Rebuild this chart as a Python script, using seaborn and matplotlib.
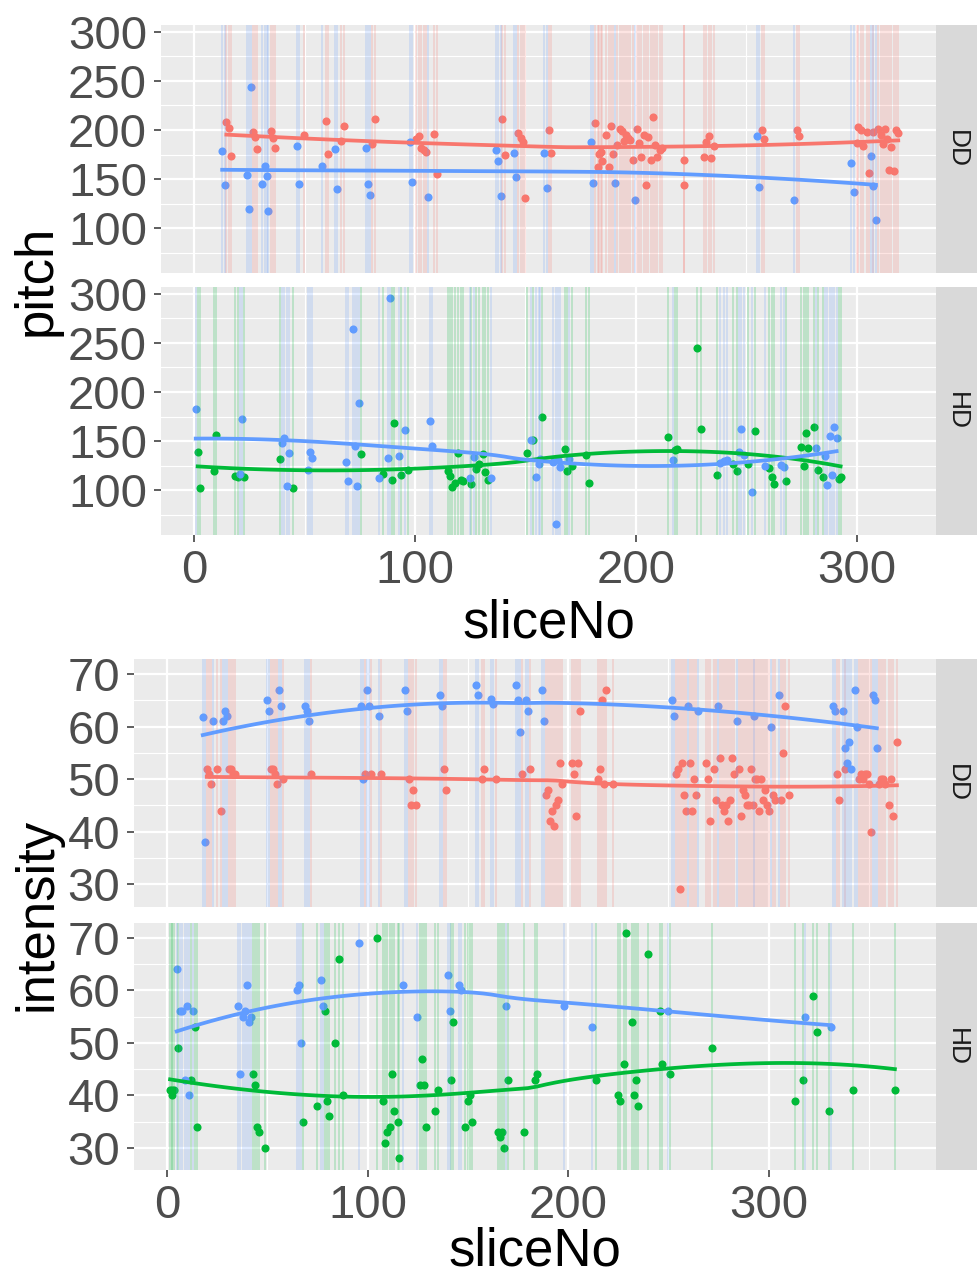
import numpy as np
import pandas as pd
import matplotlib
matplotlib.use("Agg")
import matplotlib.pyplot as plt
import seaborn as sns

plt.rcParams['font.family'] = ['Liberation Sans', 'DejaVu Sans']

RED, GREEN, BLUE = "#F8766D", "#00BA38", "#619CFF"

# ---------------- data (sliceNo, value) ----------------
pitch_dd_red = [
    (14.6, 208), (15.7, 202), (16.9, 174), (26.8, 198), (27.7, 193), (28.7, 181), (34.7, 199), (35.6, 192),
    (36.7, 182), (49.9, 195), (59.9, 209), (60.8, 176), (66.6, 189), (67.7, 204), (80.7, 186), (81.8, 211),
    (100.5, 191), (101.7, 194), (102.8, 182), (104, 180), (105, 178), (108.6, 196), (109.8, 155), (139.6, 211),
    (140.7, 175), (146.8, 197), (147.9, 192), (149.1, 188), (149.8, 131), (160.8, 200), (161.8, 177),
    (181.7, 207), (183.3, 176), (184.4, 178), (184.7, 168), (182.8, 162), (186.7, 195), (187.7, 162),
    (188.8, 204), (189.7, 176), (191.6, 185), (192.8, 201), (193.7, 199), (194.6, 189), (195.6, 195),
    (196.5, 192), (197.6, 190), (198.7, 169), (200.6, 201), (201.7, 187), (202.6, 172), (203.6, 195),
    (204.8, 144), (205.7, 193), (206.8, 169), (207.8, 213), (208.9, 185), (209.8, 172), (211, 180), (212, 182),
    (222, 169), (221.9, 144), (231, 172), (232, 188), (233, 194), (234, 171), (235.5, 184), (257, 200),
    (258, 191), (273, 200), (274, 194), (300, 187), (300.8, 203), (302, 200), (303, 184), (304.6, 198),
    (305.8, 156), (307.6, 198), (309.7, 201), (311, 195), (312, 186), (313, 201), (314, 191), (314.8, 159),
    (315.7, 183), (316.8, 158), (317.8, 200), (318.9, 197),
]
pitch_dd_blue = [
    (12.7, 179), (13.9, 144), (25.7, 244), (24.7, 120), (23.8, 154), (30.7, 145), (31.9, 163), (32.8, 153),
    (33.5, 118), (46.7, 184), (47.6, 145), (57.8, 163), (63.8, 181), (64.7, 140), (77.7, 182), (78.8, 145),
    (79.7, 134), (97.8, 188), (98.7, 147), (105.8, 132), (136.8, 180), (137.7, 168), (138.9, 133),
    (144.7, 177), (145.6, 152), (158.5, 177), (159.7, 141), (179.8, 188), (180.7, 146), (190.7, 146),
    (199.7, 129), (254.9, 194), (255.8, 142), (271.8, 129), (297.7, 166), (298.8, 137), (306.4, 174),
    (307.6, 143), (308.8, 108),
]
pitch_hd_green = [
    (1.6, 139), (2.8, 102), (8.8, 120), (9.7, 156), (18.7, 115), (19.9, 113), (22.6, 113), (38.8, 132),
    (44.6, 102), (75.8, 137), (85.7, 117), (89.7, 110), (90.6, 168), (93.6, 116), (96.8, 121), (114.9, 120),
    (115.8, 115), (117, 103), (118.3, 107), (119.7, 138), (120.9, 110), (122, 109), (125.5, 106), (127.8, 122),
    (129, 127), (130.8, 137), (131.7, 119), (132.9, 110), (150.7, 138), (153.5, 151), (157.6, 175),
    (167.8, 142), (168.7, 120), (171, 125), (177.7, 136), (178.9, 107), (214.7, 154), (218, 141), (218.9, 142),
    (227.9, 245), (229.7, 162), (236.7, 116), (244, 127), (245.7, 120), (251, 127), (254, 160), (260.5, 123),
    (261.7, 113), (262.8, 106), (267.9, 109), (274.8, 144), (276, 125), (276.9, 158), (278, 143), (280.8, 164),
    (282.6, 121), (284.7, 114), (291.9, 111), (292.8, 114),
]
pitch_hd_blue = [
    (0.7, 183), (21.7, 173), (20.6, 117), (40, 148), (40.7, 153), (41.9, 104), (42.8, 138), (51.8, 121),
    (52.7, 139), (53.6, 133), (68.6, 129), (69.8, 109), (71.9, 264), (72.8, 145), (73.7, 104), (74.6, 189),
    (88.7, 296), (83.7, 112), (87.6, 133), (92.7, 135), (95.7, 161), (106.8, 170), (107.7, 145), (124.8, 112),
    (126.9, 134), (134.5, 112), (152.8, 151), (154.8, 114), (156, 127), (156.7, 132), (162.5, 129), (163.9, 66),
    (164.8, 131), (165.7, 124), (169.9, 132), (216.8, 131), (238.3, 128), (239.9, 130), (241.3, 131),
    (246.8, 139), (247.7, 162), (248.9, 136), (252.8, 98), (258.6, 125), (266, 126), (267.2, 124),
    (281.7, 143), (285.6, 135), (286.8, 105), (288, 155), (289.1, 116), (290, 164), (291, 153),
]
int_dd_blue = [
    (17.8, 61.9), (18.8, 38), (22.9, 61), (27.7, 61), (28.8, 63), (29.8, 62), (49.6, 65), (50.6, 63),
    (55.7, 67), (56.7, 64), (68.7, 64), (69.7, 63), (70.7, 61), (96.7, 64), (99.7, 67), (100.8, 64),
    (105.9, 62), (97.7, 50), (118.8, 67), (119.8, 63), (135.9, 66), (136.9, 64), (153.9, 68), (155, 66),
    (161.8, 65.2), (162.8, 64.3), (173.8, 68), (174.8, 65), (175.8, 59), (178.9, 65), (179.9, 63),
    (186.8, 67), (187.8, 61), (251.7, 65), (252.7, 62), (259.8, 64), (264.9, 63), (274.8, 64), (284, 61),
    (292.9, 62), (301, 60), (305, 66), (332, 64), (333, 63), (336.9, 63), (338, 56), (339, 53), (340, 57),
    (341, 52), (343, 67), (344, 60), (351.9, 66), (353, 65), (354, 56),
]
int_dd_red = [
    (19.8, 52), (20.9, 51), (21.9, 49), (24.9, 52), (27, 44), (30.8, 52), (31.8, 52), (32.8, 51), (33.8, 51),
    (51.7, 52), (52.7, 52), (53.7, 51), (54.7, 49), (57.8, 50), (71.8, 51), (98.7, 51), (101.8, 51),
    (106.9, 51), (120.9, 50), (121.9, 45), (122.9, 48), (123.9, 45), (137.9, 52), (138.9, 48), (157, 50),
    (158, 52), (163.9, 50), (176.8, 51), (180.9, 52), (188.8, 47), (189.8, 48), (190.8, 42), (191.8, 44),
    (192.9, 41), (193.9, 45), (194.9, 46), (195.9, 53), (196.9, 49), (201.8, 53), (202.8, 51), (203.8, 43),
    (204.8, 53), (205.8, 63), (214.8, 50), (215.8, 52), (216.8, 65), (217.8, 49), (218.8, 67), (222.6, 49),
    (255.7, 29), (253.7, 51), (254.7, 52), (256.7, 53), (257.8, 47), (258.8, 44), (260.8, 53), (261.8, 44),
    (262.8, 50), (263.8, 47), (268.9, 53), (269.9, 50), (271, 42), (272.8, 52), (273.8, 46), (275.8, 54),
    (276.8, 45), (277.8, 44), (278.8, 45), (279.9, 42), (280.9, 46), (281.9, 54), (282.9, 51), (285, 52),
    (286, 43), (287, 48), (288, 47), (289, 45), (290, 45), (291, 52), (292, 45), (293, 50), (294.2, 50),
    (295.2, 44), (296.2, 50), (297.2, 46), (298.2, 48), (299.2, 45), (300.3, 44), (302.3, 47), (303.3, 46),
    (306.4, 46), (307.4, 55), (308.4, 64), (310.4, 47), (334, 51), (335, 46), (338, 52), (345, 50), (346, 51),
    (347, 50), (348, 51), (349, 51), (350, 49), (351, 40), (355, 49), (356, 50), (357, 50), (358, 49),
    (360, 45), (361, 50), (362, 43), (364, 57),
]
int_hd_blue = [
    (4.8, 64), (6.6, 56), (7.6, 56), (9.7, 57), (12.7, 56), (8.7, 43), (10.7, 40), (35.6, 57), (36.6, 44),
    (38.7, 56), (39.7, 61), (37.7, 55), (40.7, 54), (41.7, 55), (64.6, 60), (65.6, 61), (66.7, 50),
    (76.6, 62), (77.6, 57), (95.7, 69), (117.8, 61), (124.7, 55), (139.9, 63), (141, 56), (145.8, 61),
    (146.8, 60), (169, 57), (198, 57), (212, 53), (250, 56), (318, 55), (331, 53),
]
int_hd_green = [
    (13.7, 53), (5.6, 49), (1.5, 41), (2.5, 41), (3.6, 41), (2.6, 40), (11.7, 43), (14.8, 34), (42.7, 44),
    (43.8, 42), (44.8, 34), (45.8, 33), (48.9, 30), (67.7, 35), (74.6, 38), (78.6, 56), (79.6, 39),
    (80.7, 36), (83.7, 50), (85.8, 66), (87.8, 40), (104.8, 70), (107.9, 39), (108.9, 31), (109.9, 33),
    (111, 34), (112, 44), (113, 37), (115, 35), (115.8, 28), (125.9, 42), (127, 47), (128, 42), (129, 34),
    (133.8, 37), (134.9, 41), (141.7, 43), (142.7, 54), (148.8, 34), (149.9, 39), (150.9, 40), (151.9, 35),
    (164.9, 33), (165.9, 32), (166.9, 33), (167.9, 30), (170, 43), (177.9, 33), (183.7, 43), (184.7, 44),
    (214, 43), (225, 40), (226, 39), (228, 46), (229, 71), (232, 54), (233, 40), (234, 43), (235, 38),
    (240, 67), (246, 56), (247, 46), (251, 44), (272, 49), (313, 39), (317, 43), (322, 59), (324, 52),
    (330, 37), (342, 41), (363, 41),
]

facet_labels = ["DD", "HD"]
x_ticks = [0, 100, 200, 300]
pitch_yticks = [100, 150, 200, 250, 300]
int_yticks = [30, 40, 50, 60, 70]


def to_df(pairs, group, facet):
    a = np.array(pairs, dtype=float)
    return pd.DataFrame({"sliceNo": a[:, 0], "value": a[:, 1], "group": group, "facet": facet})


def loess(x, y, span=1.0, n_out=80):
    x = np.asarray(x, float)
    y = np.asarray(y, float)
    n = len(x)
    q = min(n, int(np.floor(n * span)))
    xs = np.linspace(x.min(), x.max(), n_out)
    ys = []
    for x0 in xs:
        d = np.abs(x - x0)
        h = np.sort(d)[q - 1] * max(1.0, span) * 1.0001
        w = np.clip(1 - (d / h) ** 3, 0, None) ** 3
        c = np.polyfit(x - x0, y, 2, w=np.sqrt(w))
        ys.append(c[-1])
    return xs, np.array(ys)


W, H = 977, 1277
fig = plt.figure(figsize=(W / 100, H / 100), dpi=100)


def add_px(l, t, r, b):
    return fig.add_axes([l / W, 1 - b / H, (r - l) / W, (b - t) / H])


def draw_panel(ax, sax, df, xlim, ylim, yticks, yminor, xminor, show_x, label):
    ax.set_facecolor("#EBEBEB")
    for sp in ax.spines.values():
        sp.set_visible(False)
    colors = {"red": RED, "green": GREEN, "blue": BLUE}
    groups = [g for g in ["red", "green", "blue"] if g in df["group"].unique()]
    for g in groups:
        d = df[df["group"] == g]
        sns.scatterplot(data=d, x="sliceNo", y="value", color=colors[g], s=34,
                        linewidth=0, ax=ax, zorder=3, legend=False)
    for g in groups:
        d = df[df["group"] == g]
        ax.vlines(d["sliceNo"], ylim[0], ylim[1], colors=colors[g], alpha=0.25,
                  linewidth=1.1, zorder=4)
    for g in groups:
        d = df[df["group"] == g]
        xs, ys = loess(d["sliceNo"], d["value"])
        sns.lineplot(x=xs, y=ys, color=colors[g], linewidth=2.7, ax=ax, zorder=5,
                     sort=False, estimator=None)
    ax.set_xlim(*xlim)
    ax.set_ylim(*ylim)
    ax.set_xticks(x_ticks)
    ax.set_xticks(xminor, minor=True)
    ax.set_yticks(yticks)
    ax.set_yticks(yminor, minor=True)
    ax.grid(which="major", color="white", linewidth=1.6, zorder=0)
    ax.grid(which="minor", color="white", linewidth=0.8, zorder=0)
    ax.set_axisbelow(True)
    ax.tick_params(which="minor", length=0)
    ax.tick_params(which="major", length=5, width=1.1, color="#333333",
                   labelsize=34, labelcolor="#4D4D4D")
    ax.tick_params(axis="y", pad=5)
    ax.tick_params(axis="x", pad=5)
    if not show_x:
        ax.tick_params(axis="x", which="both", length=0, labelbottom=False)
    ax.set_xlabel("")
    ax.set_ylabel("")
    sax.set_facecolor("#D9D9D9")
    sax.set_xticks([])
    sax.set_yticks([])
    for sp in sax.spines.values():
        sp.set_visible(False)
    sax.text(0.5, 0.5, label, rotation=-90, ha="center", va="center",
             fontsize=19, color="#1A1A1A", transform=sax.transAxes)


pitch_dfs = [
    pd.concat([to_df(pitch_dd_red, "red", "DD"), to_df(pitch_dd_blue, "blue", "DD")]),
    pd.concat([to_df(pitch_hd_green, "green", "HD"), to_df(pitch_hd_blue, "blue", "HD")]),
]
int_dfs = [
    pd.concat([to_df(int_dd_red, "red", "DD"), to_df(int_dd_blue, "blue", "DD")]),
    pd.concat([to_df(int_hd_green, "green", "HD"), to_df(int_hd_blue, "blue", "HD")]),
]

# pitch block
pitch_rows = [(25, 272.7), (287, 534.7)]
for i, (t, b) in enumerate(pitch_rows):
    ax = add_px(161, t, 936, b)
    sax = add_px(936, t, 977, b)
    draw_panel(ax, sax, pitch_dfs[i], (-15, 336), (54.8, 306.8), pitch_yticks,
               [75, 125, 175, 225, 275], [50, 150, 250], i == 1, facet_labels[i])

# intensity block
int_rows = [(659, 906.7), (922.7, 1170.4)]
for i, (t, b) in enumerate(int_rows):
    ax = add_px(134, t, 936, b)
    sax = add_px(936, t, 977, b)
    draw_panel(ax, sax, int_dfs[i], (-16.5, 383.5), (25.7, 72.9), int_yticks,
               [35, 45, 55, 65], [50, 150, 250, 350], i == 1, facet_labels[i])

fig.text(548.5 / W, 1 - 637 / H, "sliceNo", ha="center", va="baseline", fontsize=38, color="black")
fig.text(535 / W, 1 - 1265 / H, "sliceNo", ha="center", va="baseline", fontsize=38, color="black")
fig.text(37 / W, 1 - 280 / H, "pitch", ha="center", va="center", rotation=90, fontsize=38, color="black")
fig.text(37 / W, 1 - 914.5 / H, "intensity", ha="center", va="center", rotation=90, fontsize=38, color="black")

fig.savefig("out.png", dpi=100)
